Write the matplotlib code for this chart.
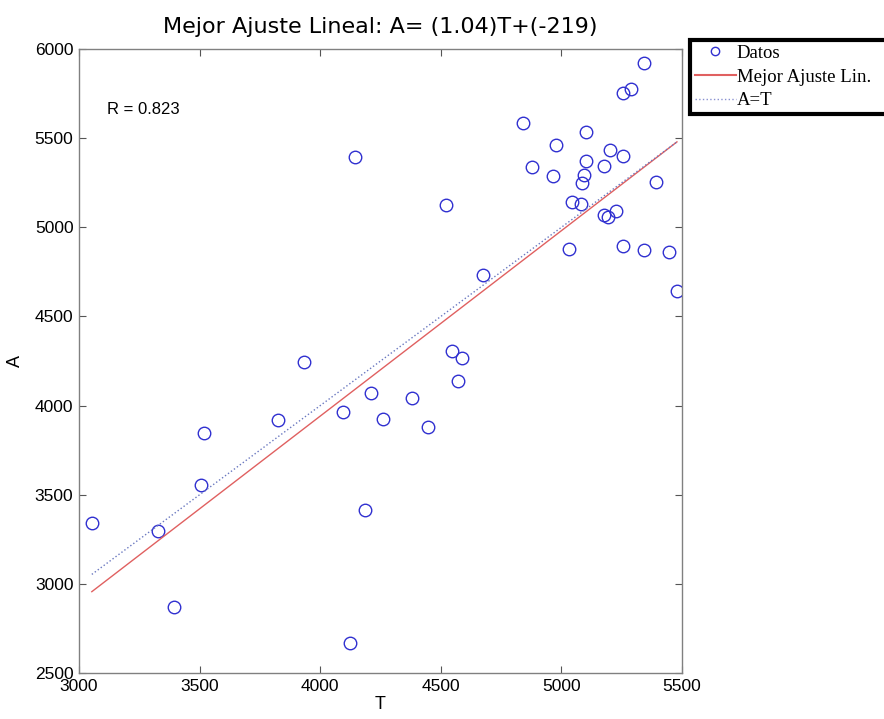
import numpy as np
import matplotlib
matplotlib.use('Agg')
import matplotlib.pyplot as plt
from matplotlib.lines import Line2D

# datos
T = [3053, 3329, 3394, 3506, 3520, 3826, 3934, 4093, 4212, 4185, 4124, 4260,
     4144, 4522, 4381, 4447, 4546, 4588, 4571, 4676,
     5344, 5257, 5287, 4842, 5100, 4979, 5203, 5257, 4879, 5100, 5177, 4964,
     5092, 5087, 5391, 5044, 5081, 5178, 5195, 5226, 5033, 5254, 5344, 5446,
     5479]
A = [3343, 3298, 2869, 3553, 3846, 3921, 4243, 3962, 4073, 3413, 2670, 3925,
     5394, 5125, 4043, 3880, 4306, 4267, 4138, 4734,
     5923, 5755, 5774, 5587, 5533, 5463, 5432, 5400, 5338, 5372, 5344, 5288,
     5292, 5247, 5254, 5140, 5131, 5071, 5060, 5090, 4878, 4897, 4873, 4860,
     4643]
slope, icpt = 1.04, -219
R = 0.823

fig = plt.figure(figsize=(8.84, 7.19), dpi=100)
ax = fig.add_axes([0.0894, 0.0640, 0.6821, 0.8678])

tmin, tmax = min(T), max(T)
tl = np.array([tmin, tmax])
ax.plot(T, A, 'o', mfc='none', mec='#3030d0', ms=9, mew=1.0)
ax.plot(tl, slope * tl + icpt, '-', color='#e06060', lw=1.0)
ax.plot(tl, tl, ':', color='#6a78c0', lw=1.0)

ax.set_xlim(3000, 5500)
ax.set_ylim(2500, 6000)
ax.set_xticks(np.arange(3000, 5501, 500))
ax.set_yticks(np.arange(2500, 6001, 500))
ax.tick_params(direction='in', top=True, right=True, length=5, width=0.8,
               color='#555555', labelsize=12.5, pad=4)
for lab in ax.get_xticklabels() + ax.get_yticklabels():
    lab.set_family('Liberation Sans')
for s in ax.spines.values():
    s.set_color('#808080')
    s.set_linewidth(1.0)

ax.set_xlabel('T', fontsize=13, family='Liberation Sans', labelpad=2)
ax.set_ylabel('A', fontsize=13, family='Liberation Sans', labelpad=8)
ax.text(3115, 5660, f'R = {R}', fontsize=12, family='Liberation Sans',
        va='center')

fig.text(0.43, 0.962, f'Mejor Ajuste Lineal: A= ({slope})T+({icpt})',
         ha='center', va='center', fontsize=16,
         family=['Liberation Sans Narrow', 'DejaVu Sans Condensed',
                 'DejaVu Sans'])

handles = [
    Line2D([], [], marker='o', ls='none', mfc='none', mec='#3030d0', ms=6),
    Line2D([], [], color='#e06060', lw=1.5),
    Line2D([], [], color='#8890d0', lw=1.0, ls=':'),
]
# la leyenda se sale por la derecha, como en el original
leg = fig.legend(handles, ['Datos', 'Mejor Ajuste Lin.', 'A=T'],
                 loc='upper left', mode='expand',
                 bbox_to_anchor=(690 / 884, 1 - 40 / 719, 205 / 884, 0),
                 prop={'family': 'Liberation Serif', 'size': 13.5},
                 handlelength=2.2, handletextpad=0.05, labelspacing=0.35,
                 borderpad=0.25, borderaxespad=0, fancybox=False,
                 framealpha=1, edgecolor='black')
leg.get_frame().set_linewidth(3)

fig.savefig('out.png', dpi=100)
